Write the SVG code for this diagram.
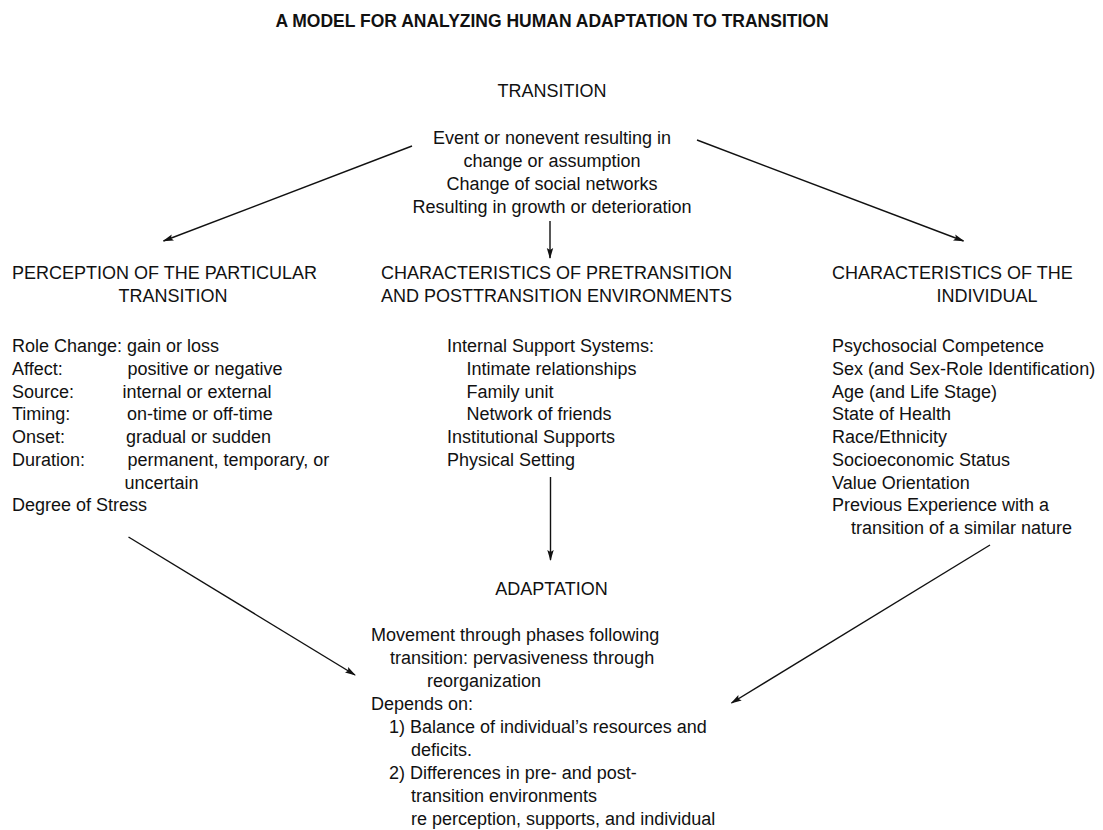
<svg xmlns="http://www.w3.org/2000/svg" width="1103" height="830" viewBox="0 0 1103 830">
<defs>
<style>
text{font-family:"Liberation Sans",Arial,sans-serif;font-size:18px;fill:#111;}
.title{font-weight:bold;font-size:17.5px;}
.c{text-anchor:middle;}
.conn line{stroke:#111;stroke-width:1.4;fill:none;}
</style>
<marker id="ah" markerWidth="11" markerHeight="8" refX="10" refY="4" orient="auto" markerUnits="userSpaceOnUse">
<path d="M0,0.8 L11,4 L0,7.2 L2,4 z" fill="#111"/>
</marker>
</defs>
<rect width="1103" height="830" fill="#fff"/>
<text class="title c" x="552" y="27">A MODEL FOR ANALYZING HUMAN ADAPTATION TO TRANSITION</text>

<g id="transition">
<text class="c" x="552" y="97">TRANSITION</text>
<text class="c" x="552" y="144">Event or nonevent resulting in</text>
<text class="c" x="552" y="167">change or assumption</text>
<text class="c" x="552" y="190">Change of social networks</text>
<text class="c" x="552" y="213">Resulting in growth or deterioration</text>
</g>

<g id="perception">
<text x="12" y="279">PERCEPTION OF THE PARTICULAR</text>
<text class="c" x="173" y="302">TRANSITION</text>
<text x="12" y="352">Role Change: gain or loss</text>
<text x="12" y="374.75">Affect:</text><text x="127.5" y="374.75">positive or negative</text>
<text x="12" y="397.5">Source:</text><text x="122.5" y="397.5">internal or external</text>
<text x="12" y="420.25">Timing:</text><text x="127" y="420.25">on-time or off-time</text>
<text x="12" y="443">Onset:</text><text x="126" y="443">gradual or sudden</text>
<text x="12" y="465.75">Duration:</text><text x="127.5" y="465.75">permanent, temporary, or</text>
<text x="124.5" y="488.5">uncertain</text>
<text x="12" y="511.25">Degree of Stress</text>
</g>

<g id="environments">
<text class="c" x="556.5" y="279">CHARACTERISTICS OF PRETRANSITION</text>
<text class="c" x="556.5" y="302">AND POSTTRANSITION ENVIRONMENTS</text>
<text x="447" y="352">Internal Support Systems:</text>
<text x="466.5" y="374.75">Intimate relationships</text>
<text x="466.5" y="397.5">Family unit</text>
<text x="466.5" y="420.25">Network of friends</text>
<text x="447" y="443">Institutional Supports</text>
<text x="447" y="465.75">Physical Setting</text>
</g>

<g id="individual">
<text x="832" y="279">CHARACTERISTICS OF THE</text>
<text class="c" x="987" y="302">INDIVIDUAL</text>
<text x="832" y="352">Psychosocial Competence</text>
<text x="832" y="374.75">Sex (and Sex-Role Identification)</text>
<text x="832" y="397.5">Age (and Life Stage)</text>
<text x="832" y="420.25">State of Health</text>
<text x="832" y="443">Race/Ethnicity</text>
<text x="832" y="465.75">Socioeconomic Status</text>
<text x="832" y="488.5">Value Orientation</text>
<text x="832" y="511.25">Previous Experience with a</text>
<text x="851" y="534">transition of a similar nature</text>
</g>

<g id="adaptation">
<text class="c" x="551.5" y="595">ADAPTATION</text>
<text x="371" y="641">Movement through phases following</text>
<text x="390" y="664">transition: pervasiveness through</text>
<text x="427" y="687">reorganization</text>
<text x="371" y="710">Depends on:</text>
<text x="389" y="733">1) Balance of individual’s resources and</text>
<text x="411" y="756">deficits.</text>
<text x="389" y="779">2) Differences in pre- and post-</text>
<text x="411" y="802">transition environments</text>
<text x="411" y="825">re perception, supports, and individual</text>
</g>

<g id="connectors" class="conn">
<line x1="412" y1="146" x2="163.5" y2="241" marker-end="url(#ah)"/>
<line x1="697" y1="140" x2="963.5" y2="241" marker-end="url(#ah)"/>
<line x1="550" y1="221" x2="550" y2="258" marker-end="url(#ah)"/>
<line x1="550.5" y1="477" x2="550.5" y2="560" marker-end="url(#ah)"/>
<line x1="128.5" y1="537" x2="355" y2="675" marker-end="url(#ah)"/>
<line x1="990" y1="545" x2="731.5" y2="703" marker-end="url(#ah)"/>
</g>
</svg>
